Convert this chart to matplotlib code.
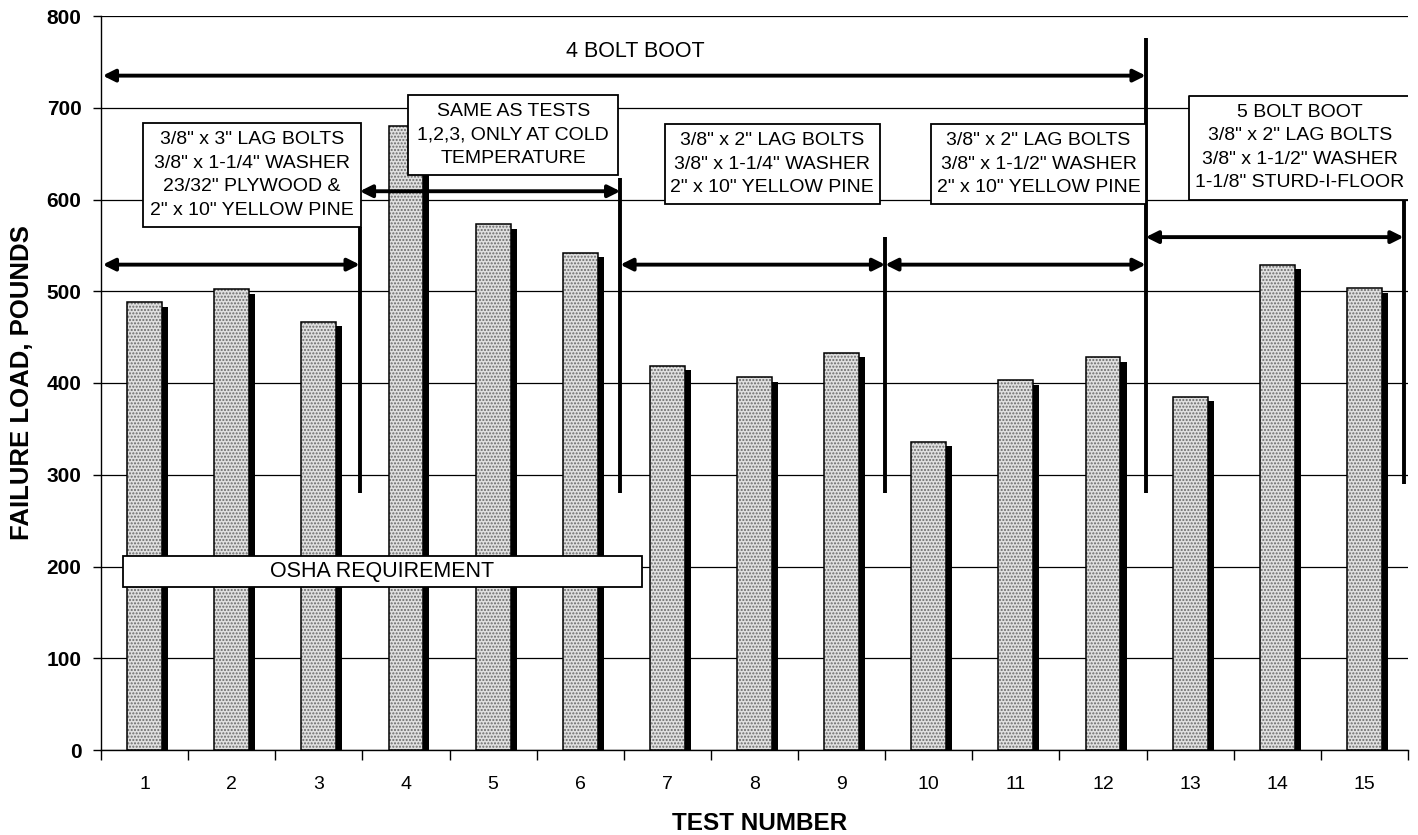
import matplotlib
matplotlib.use("Agg")
import matplotlib.pyplot as plt
from matplotlib.patches import Rectangle

plt.rcParams['font.family'] = ['Liberation Sans', 'DejaVu Sans']

# ---- data ----
tests = list(range(1, 16))
failure_load = [488, 502, 467, 680, 573, 542, 419, 406, 433, 336, 403, 428, 385, 529, 503]
y_ticks = [0, 100, 200, 300, 400, 500, 600, 700, 800]

# group separators (x in test-number units) and their vertical extents
sep_x = [3.47, 6.46, 9.5, 12.49, 15.45]
sep_top = [570, 623, 559, 776, 600]
sep_bottom = [280, 280, 280, 280, 290]

# span arrows: (x_start, x_end, y)
span_arrows = [
    (0.52, 12.49, 735),   # 4 bolt boot
    (0.52, 3.47, 529),
    (3.47, 6.46, 609),
    (6.46, 9.5, 529),
    (9.5, 12.49, 529),
    (12.49, 15.45, 559),
]

# annotation boxes: (x0, x1, y0, y1, text)
boxes = [
    (0.98, 3.48, 570, 683,
     '3/8" x 3" LAG BOLTS\n3/8" x 1-1/4" WASHER\n23/32" PLYWOOD &\n2" x 10" YELLOW PINE'),
    (4.02, 6.43, 627, 714,
     'SAME AS TESTS\n1,2,3, ONLY AT COLD\nTEMPERATURE'),
    (6.97, 9.44, 595, 682,
     '3/8" x 2" LAG BOLTS\n3/8" x 1-1/4" WASHER\n2" x 10" YELLOW PINE'),
    (10.02, 12.49, 595, 682,
     '3/8" x 2" LAG BOLTS\n3/8" x 1-1/2" WASHER\n2" x 10" YELLOW PINE'),
]
box_text_x = [2.23, 5.23, 8.2, 11.26]

# open-ended box at the right edge (no right border)
open_box = (12.99, 15.5, 600, 713,
            '5 BOLT BOOT\n3/8" x 2" LAG BOLTS\n3/8" x 1-1/2" WASHER\n1-1/8" STURD-I-FLOOR')
open_box_text_x = 14.26

osha_box = (0.75, 6.71, 178, 211, 'OSHA REQUIREMENT')
top_label = (6.63, 761, '4 BOLT BOOT')

# ---- figure ----
W, H = 1418, 835
fig = plt.figure(figsize=(W / 100, H / 100), dpi=100)
ax = fig.add_axes([101 / W, 1 - 750 / H, (1408 - 101) / W, (750 - 16) / H])
ax.set_xlim(0.5, 15.5)
ax.set_ylim(0, 800)

# grid
ax.set_yticks(y_ticks)
ax.yaxis.grid(True, color='black', lw=0.9)
ax.set_axisbelow(True)
for s in ['top', 'right']:
    ax.spines[s].set_visible(False)
ax.spines['left'].set_linewidth(1.0)
ax.spines['bottom'].set_linewidth(1.0)

# bars with shadow
bw = 0.40
shadow_dx = 0.07
ax.bar([t + shadow_dx for t in tests], [v - 5 for v in failure_load], width=bw,
       color='black', linewidth=0, zorder=2)
ax.bar(tests, failure_load, width=bw, color='#e0e0e0', hatch='.....',
       edgecolor='#6a6a6a', linewidth=0, zorder=3)
ax.bar(tests, failure_load, width=bw, fill=False, edgecolor='black',
       linewidth=1.1, zorder=3.5)

# separators
for x, yt, yb in zip(sep_x, sep_top, sep_bottom):
    ax.plot([x, x], [yb, yt], color='black', lw=2.8, zorder=5,
            solid_capstyle='butt', clip_on=False)

# span arrows
for x0, x1, y in span_arrows:
    ax.annotate('', xy=(x1, y), xytext=(x0, y),
                arrowprops=dict(arrowstyle='<|-|>', color='black', lw=2.8,
                                mutation_scale=18, shrinkA=0, shrinkB=0),
                zorder=5)

TXT = dict(ha='center', va='center', fontsize=14, linespacing=1.5, zorder=7)

# boxes
for (x0, x1, y0, y1, txt), tx in zip(boxes, box_text_x):
    ax.add_patch(Rectangle((x0, y0), x1 - x0, y1 - y0, facecolor='white',
                           edgecolor='black', lw=1.3, zorder=6))
    ax.text(tx, (y0 + y1) / 2, txt, **TXT)

x0, x1, y0, y1, txt = open_box
ax.add_patch(Rectangle((x0, y0), x1 - x0, y1 - y0, facecolor='white',
                       edgecolor='none', zorder=6))
ax.plot([x1, x0, x0, x1], [y1, y1, y0, y0], color='black', lw=1.3, zorder=6.5)
ax.text(open_box_text_x, (y0 + y1) / 2, txt, **TXT)

x0, x1, y0, y1, txt = osha_box
ax.add_patch(Rectangle((x0, y0), x1 - x0, y1 - y0, facecolor='white',
                       edgecolor='black', lw=1.3, zorder=6))
ax.text((x0 + x1) / 2, (y0 + y1) / 2, txt, ha='center', va='center',
        fontsize=15.5, zorder=7)

ax.text(top_label[0], top_label[1], top_label[2], ha='center', va='center',
        fontsize=15.5, zorder=7)

# ticks
ax.set_xticks(tests)
ax.set_xticklabels([str(t) for t in tests], fontsize=14)
ax.tick_params(axis='x', which='major', length=0, pad=19)
ax.set_xticks([t + 0.5 for t in range(0, 16)], minor=True)
ax.tick_params(axis='x', which='minor', length=7, direction='out', width=1)
ax.tick_params(axis='y', length=6, direction='out', width=1, pad=8, labelsize=15)
for lab in ax.get_yticklabels():
    lab.set_fontweight('bold')

ax.set_xlabel('TEST NUMBER', fontsize=17.5, fontweight='bold', va='center')
ax.xaxis.set_label_coords((760 - 101) / 1307, (750 - 823) / 734)
ax.set_ylabel('FAILURE LOAD, POUNDS', fontsize=18.5, fontweight='bold', va='center')
ax.yaxis.set_label_coords((22.5 - 101) / 1307, (750 - 382.5) / 734)

fig.savefig('out.png', dpi=100)
